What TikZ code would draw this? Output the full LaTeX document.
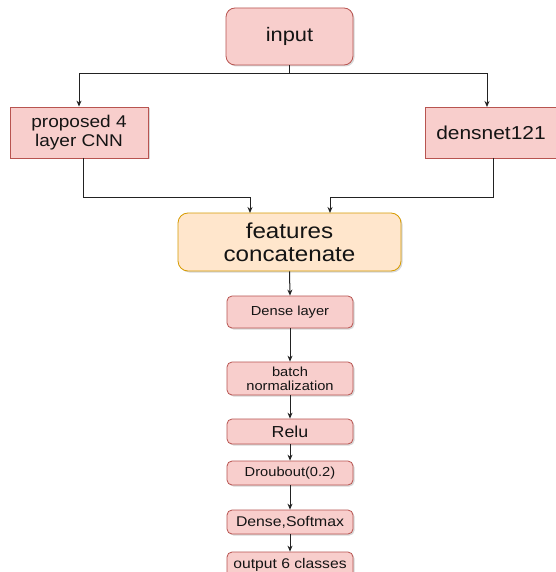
\documentclass[tikz,border=0pt]{standalone}
\usepackage{fontspec}
\setmainfont{Liberation Sans}[FakeStretch=1.12]
\usetikzlibrary{arrows.meta,shadows}
\definecolor{pinkfill}{HTML}{F8CECC}
\definecolor{pinkline}{HTML}{B85450}
\definecolor{orfill}{HTML}{FFE6CC}
\definecolor{orline}{HTML}{D79B00}
\definecolor{wire}{HTML}{222222}
\tikzset{
  base/.style={draw=pinkline, fill=pinkfill, line width=0.8pt, inner sep=0pt, align=center, text=black!92,
    drop shadow={shadow xshift=1.5pt, shadow yshift=-1.5pt, opacity=0.25, fill=black!60}},
  bigbox/.style={base, rounded corners=9pt},
  sidebox/.style={base},
  smallbox/.style={base, rounded corners=5pt, minimum width=126pt},
  featbox/.style={base, draw=orline, fill=orfill, rounded corners=10pt},
  conn/.style={draw=wire, line width=1pt},
  arr/.style={conn, -{Stealth[length=6pt,width=5pt]}}
}
\begin{document}
\begin{tikzpicture}[x=1pt,y=-1pt]
\useasboundingbox (0,0) rectangle (555,572);
\fill[white] (0,0) rectangle (555,572);
\node[bigbox, minimum width=127pt, minimum height=57pt, font=\fontsize{19.5}{22}\selectfont] (input) at (289.5,36.5) {input};
\node[sidebox, minimum width=138pt, minimum height=51pt, font=\fontsize{17}{19}\selectfont] (cnn) at (79,132.5) {proposed 4\\layer CNN};
\node[sidebox, minimum width=132pt, minimum height=51pt, font=\fontsize{18.7}{21}\selectfont] (dn) at (491,132.5) {densnet121};
\node[featbox, minimum width=223pt, minimum height=58pt, font=\fontsize{21.6}{22.7}\selectfont] (feat) at (289.5,242) {features\\concatenate};
\node[smallbox, minimum height=32pt, font=\fontsize{13.1}{14.3}\selectfont] (dense) at (290,312) {Dense layer};
\node[smallbox, minimum height=33pt, font=\fontsize{13.1}{14.3}\selectfont] (bn) at (290,378.5) {batch\\normalization};
\node[smallbox, minimum height=25pt, font=\fontsize{15.9}{17}\selectfont] (relu) at (290,431.5) {Relu};
\node[smallbox, minimum height=24pt, font=\fontsize{13.1}{14.3}\selectfont] (drop) at (290,473) {Droubout(0.2)};
\node[smallbox, minimum height=24pt, font=\fontsize{14.1}{15}\selectfont] (soft) at (290,522) {Dense,Softmax};
\node[smallbox, minimum height=25pt, font=\fontsize{14}{15}\selectfont] (out) at (290,564.5) {output 6 classes};
% junction coordinates
\coordinate (j) at (input.south |- 0,74);
\coordinate (jl) at (cnn.north |- 0,74);
\coordinate (jr) at (487,74);
\coordinate (dnt) at (487,107);
\coordinate (cl) at (83,197);
\coordinate (cr) at (493,197);
\coordinate (fl) at (250,197);
\coordinate (fr) at (330,197);
\coordinate (cnnb) at (83,158);
\coordinate (dnb) at (493,158);
\coordinate (flt) at (250,213);
\coordinate (frt) at (330,213);
\draw[conn] (input.south) -- (j);
\draw[arr] (j) -- (jl) -- (cnn.north);
\draw[arr] (j) -- (jr) -- (dnt);
\draw[arr] (cnnb) -- (cl) -- (fl) -- (flt);
\draw[arr] (dnb) -- (cr) -- (fr) -- (frt);
\draw[arr] (feat.south) -- (dense.north);
\draw[arr] (dense) -- (bn);
\draw[arr] (bn) -- (relu);
\draw[arr] (relu) -- (drop);
\draw[arr] (drop) -- (soft);
\draw[arr] (soft) -- (out);
\end{tikzpicture}
\end{document}
